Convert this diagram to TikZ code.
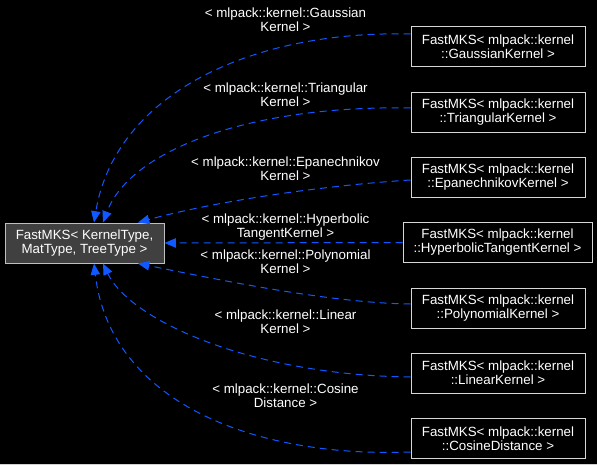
\documentclass[tikz,border=0pt]{standalone}
\usepackage{fontspec}
\setmainfont{Liberation Sans}
\usepackage{tikz}
\usetikzlibrary{arrows.meta, positioning, calc}
\definecolor{edgeblue}{RGB}{16,88,255}
\definecolor{basegray}{RGB}{64,64,64}
\definecolor{framegray}{RGB}{191,191,191}
\definecolor{boxframe}{RGB}{215,215,215}
\tikzset{
  block/.style={rectangle, draw=boxframe, fill=black, text=white,
    align=center, minimum width=130.5pt, minimum height=30pt,
    inner sep=0pt, font=\fontsize{10}{10.5}\selectfont, line width=0.75pt},
  arrow/.style={-{Triangle[length=8.5pt, width=7pt]}, color=edgeblue,
    line width=0.75pt, dash pattern=on 5.25pt off 3.75pt},
  lbl/.style={text=white, align=center, inner sep=0pt,
    font=\fontsize{10}{10.5}\selectfont}
}

\begin{document}
\begin{tikzpicture}[x=0.75pt, y=-0.75pt]
  \fill[black] (0,0) rectangle (597,465);
  \fill[framegray!70] (0,463.5) rectangle (597,465);
  \useasboundingbox (0,0) rectangle (597,465);

  % Nodes
  \node[block, draw=framegray, fill=basegray, minimum width=119.25pt] (base) at (84.5,243) {FastMKS< KernelType,\\MatType, TreeType >};

  \node[block] (gauss) at (498,46.5) {FastMKS< mlpack::kernel\\::GaussianKernel >};
  \node[block] (triang) at (498,112) {FastMKS< mlpack::kernel\\::TriangularKernel >};
  \node[block] (epan) at (498,177) {FastMKS< mlpack::kernel\\::EpanechnikovKernel >};
  \node[block, minimum width=141.75pt] (hyper) at (497.5,242.5) {FastMKS< mlpack::kernel\\::HyperbolicTangentKernel >};
  \node[block] (poly) at (498,308) {FastMKS< mlpack::kernel\\::PolynomialKernel >};
  \node[block] (linear) at (498,373) {FastMKS< mlpack::kernel\\::LinearKernel >};
  \node[block] (cosine) at (498,438.5) {FastMKS< mlpack::kernel\\::CosineDistance >};

  % Edge labels
  \node[lbl] (lgauss) at (285.5,19.5) {< mlpack::kernel::Gaussian\\Kernel >};
  \node[lbl] (ltriang) at (285.5,95) {< mlpack::kernel::Triangular\\Kernel >};
  \node[lbl] (lepan) at (285.5,168.5) {< mlpack::kernel::Epanechnikov\\Kernel >};
  \node[lbl] (lhyper) at (285.5,227) {< mlpack::kernel::Hyperbolic\\TangentKernel >};
  \node[lbl] (lpoly) at (285.5,261.5) {< mlpack::kernel::Polynomial\\Kernel >};
  \node[lbl] (llinear) at (285.5,321.5) {< mlpack::kernel::Linear\\Kernel >};
  \node[lbl] (lcosine) at (285.5,395.5) {< mlpack::kernel::Cosine\\Distance >};

  % Connections
  \draw[arrow] ($(gauss.west)+(0,-12.5)$) .. controls (250,30) and (115,95) .. ($(base.north)+(9.5,0)$);
  \draw[arrow] ($(triang.west)+(0,-4)$) .. controls (250,105) and (130,150) .. ($(base.north)+(18.5,0)$);
  \draw[arrow] ($(epan.west)+(0,3)$) .. controls (330,185) and (220,200) .. ($(base.north)+(53.5,0)$);
  \draw[arrow] (hyper.west) -- (base.east);
  \draw[arrow] ($(poly.west)+(0,-4)$) .. controls (330,303) and (220,280) .. ($(base.south)+(53.5,0)$);
  \draw[arrow] ($(linear.west)+(0,4)$) .. controls (250,375) and (130,320) .. ($(base.south)+(18.5,0)$);
  \draw[arrow] ($(cosine.west)+(0,13.5)$) .. controls (250,458) and (110,400) .. ($(base.south)+(9.5,0)$);
\end{tikzpicture}
\end{document}
